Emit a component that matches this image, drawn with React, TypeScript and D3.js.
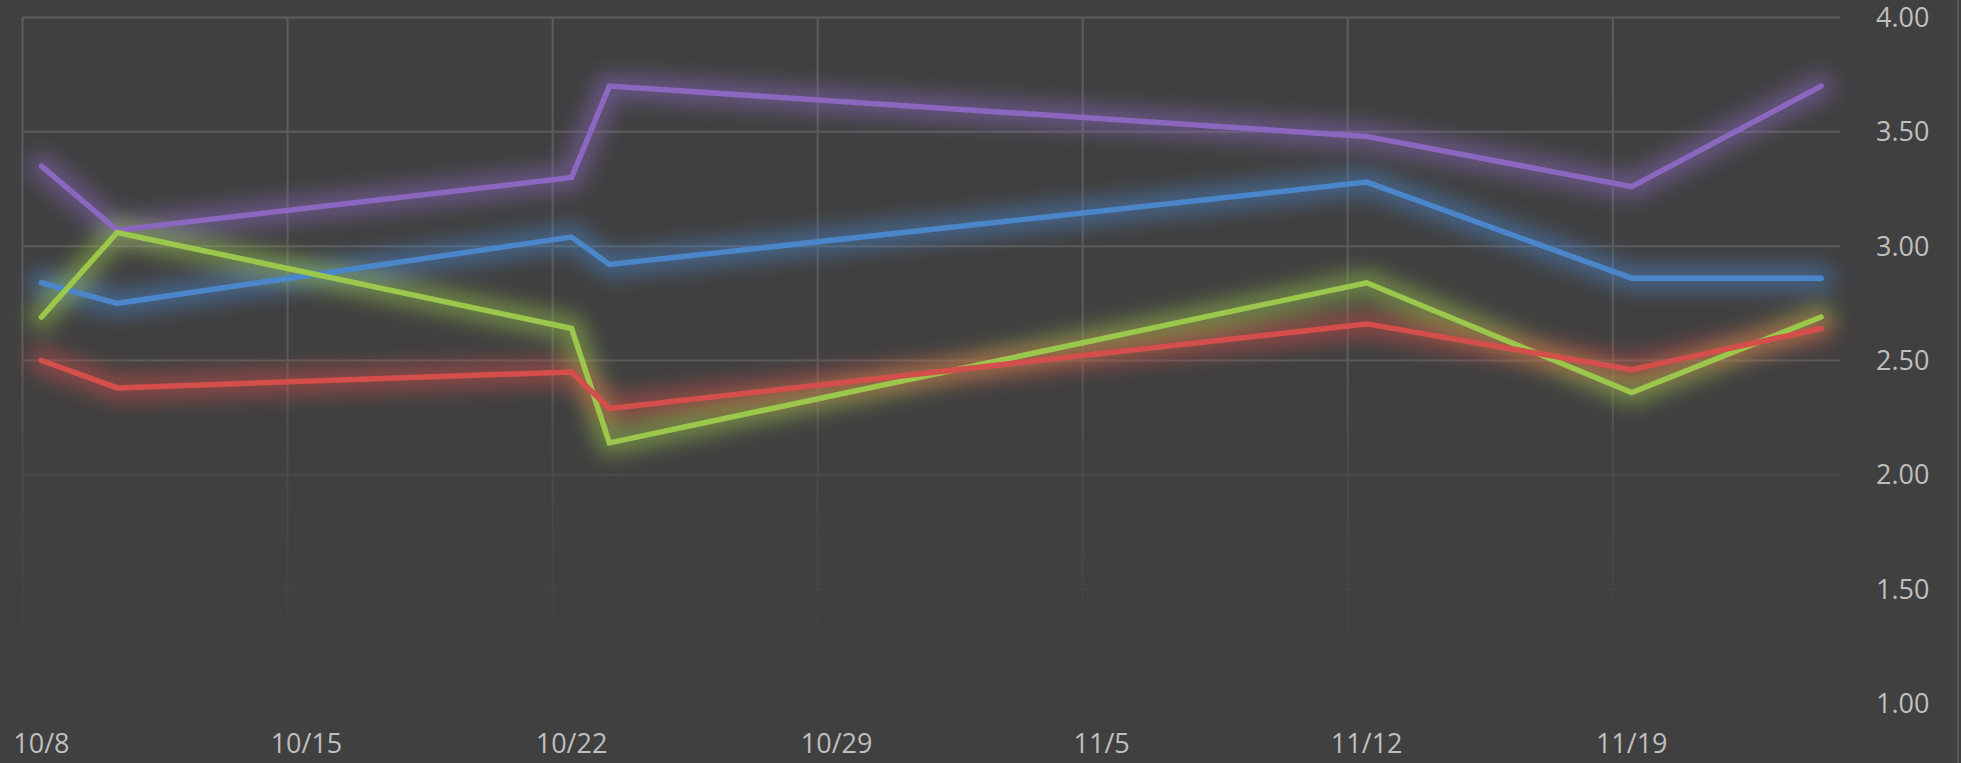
import * as d3 from 'd3';
import { useEffect, useRef } from 'react';

// dates of each reading (month/day)
const dates = ['10/8', '10/10', '10/22', '10/23', '11/12', '11/19', '11/24'];

const purpleValues = [3.35, 3.07, 3.3, 3.7, 3.48, 3.26, 3.7];
const blueValues = [2.84, 2.75, 3.04, 2.92, 3.28, 2.86, 2.86];
const greenValues = [2.69, 3.06, 2.64, 2.14, 2.84, 2.36, 2.69];
const redValues = [2.5, 2.38, 2.45, 2.29, 2.66, 2.46, 2.64];

const yTicks = [1.0, 1.5, 2.0, 2.5, 3.0, 3.5, 4.0];
const xTickLabels = ['10/8', '10/15', '10/22', '10/29', '11/5', '11/12', '11/19'];

const series = [
  { name: 'purple', values: purpleValues, color: '#8b67c0' },
  { name: 'blue', values: blueValues, color: '#4b86cb' },
  { name: 'green', values: greenValues, color: '#9bc74c' },
  { name: 'red', values: redValues, color: '#d44f4b' },
];

const toDate = (md: string) => {
  const [m, d] = md.split('/').map(Number);
  return new Date(Date.UTC(2018, m - 1, d));
};
const DAY = 24 * 3600 * 1000;

const App = () => {
  const svgRef = useRef<SVGSVGElement>(null);

  useEffect(() => {
    const width = 1961;
    const height = 763;
    const left = 22.5;
    const right = 1840;
    const top = 17.5;
    const bottom = 703.5;

    const svg = d3.select(svgRef.current)
      .attr('width', width)
      .attr('height', height);

    svg.append('rect')
      .attr('width', width)
      .attr('height', height)
      .attr('fill', '#404040');

    // date axis, each day is a slot; points sit in the middle of the slot
    const x = d3.scaleUtc()
      .domain([toDate('10/8'), new Date(toDate('11/24').getTime() + DAY)])
      .range([left, right]);
    const mid = (md: string) => x(new Date(toDate(md).getTime() + DAY / 2));

    const y = d3.scaleLinear().domain([1, 4]).range([bottom, top]);

    const defs = svg.append('defs');
    const grad = defs.append('linearGradient')
      .attr('id', 'gridFade')
      .attr('gradientUnits', 'userSpaceOnUse')
      .attr('x1', 0).attr('y1', 0).attr('x2', 0).attr('y2', height);
    grad.append('stop').attr('offset', 0).attr('stop-color', '#5d5d5d');
    grad.append('stop').attr('offset', 0.48).attr('stop-color', '#595959');
    grad.append('stop').attr('offset', 0.6).attr('stop-color', '#4b4b4b');
    grad.append('stop').attr('offset', 0.88).attr('stop-color', '#404040');

    const glow = defs.append('filter')
      .attr('id', 'glow')
      .attr('x', '-10%').attr('y', '-60%')
      .attr('width', '120%').attr('height', '220%');
    glow.append('feGaussianBlur').attr('stdDeviation', 10);

    // gridlines
    const grid = svg.append('g').attr('stroke', 'url(#gridFade)').attr('stroke-width', 2);
    grid.selectAll('.hgrid')
      .data(yTicks)
      .enter()
      .append('line')
      .attr('x1', left).attr('x2', right)
      .attr('y1', (d) => y(d)).attr('y2', (d) => y(d));

    grid.selectAll('.vgrid')
      .data(xTickLabels)
      .enter()
      .append('line')
      .attr('x1', (d) => x(toDate(d))).attr('x2', (d) => x(toDate(d)))
      .attr('y1', top).attr('y2', bottom);

    // axis labels
    svg.append('g')
      .selectAll('text')
      .data(yTicks)
      .enter()
      .append('text')
      .attr('x', 1876)
      .attr('y', (d) => y(d) + 9.5)
      .attr('fill', '#bfbfbf')
      .attr('font-family', '"Open Sans", sans-serif')
      .attr('font-size', 27)
      .text((d) => d3.format('.2f')(d));

    svg.append('g')
      .selectAll('text')
      .data(xTickLabels)
      .enter()
      .append('text')
      .attr('x', (d) => mid(d))
      .attr('y', 753)
      .attr('text-anchor', 'middle')
      .attr('fill', '#bfbfbf')
      .attr('font-family', '"Open Sans", sans-serif')
      .attr('font-size', 27)
      .text((d) => d);

    svg.append('line')
      .attr('x1', 1958).attr('x2', 1958)
      .attr('y1', 0).attr('y2', height)
      .attr('stroke', '#595959')
      .attr('stroke-width', 2);

    const line = d3.line<number>()
      .x((_, i) => mid(dates[i]))
      .y((d) => y(d));

    // soft glow under each line
    svg.append('g')
      .attr('filter', 'url(#glow)')
      .selectAll('path')
      .data(series)
      .enter()
      .append('path')
      .attr('d', (s) => line(s.values))
      .attr('fill', 'none')
      .attr('stroke', (s) => s.color)
      .attr('stroke-opacity', 0.5)
      .attr('stroke-width', 26)
      .attr('stroke-linejoin', 'round')
      .attr('stroke-linecap', 'round');

    svg.append('g')
      .selectAll('path')
      .data(series)
      .enter()
      .append('path')
      .attr('d', (s) => line(s.values))
      .attr('fill', 'none')
      .attr('stroke', (s) => s.color)
      .attr('stroke-width', 5.5)
      .attr('stroke-linejoin', 'miter')
      .attr('stroke-linecap', 'round');

    return () => {
      svg.selectAll('*').remove();
    };
  }, []);

  return <svg ref={svgRef} style={{ position: 'absolute', left: 0, top: 0 }} />;
};

export default App;
